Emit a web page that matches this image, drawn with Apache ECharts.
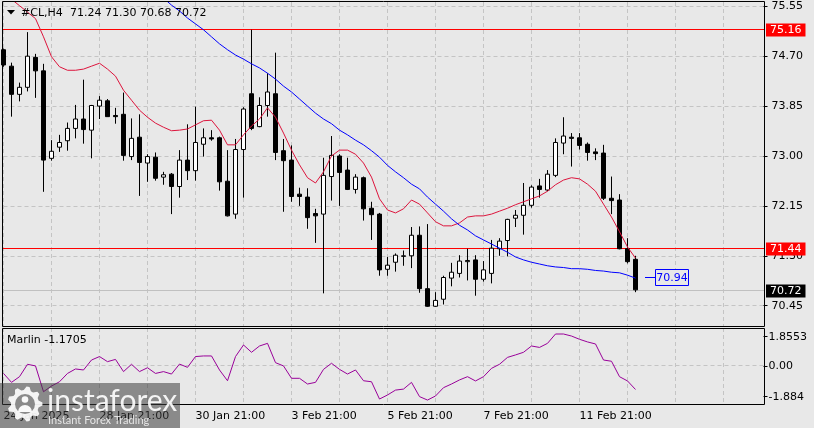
<!DOCTYPE html>
<html><head><meta charset="utf-8">
<script src="https://cdn.jsdelivr.net/npm/echarts@6/dist/echarts.min.js"></script>
<style>html,body{margin:0;padding:0;background:#e8e8e8}#c{width:814px;height:428px}</style>
</head><body><div id="c"></div>
<script>
// ---------------- DATA ----------------
const symbolText = '#CL,H4';
const ohlcText = '71.24 71.30 70.68 70.72';
const marlinText = 'Marlin -1.1705';
const slotCount = 96;   // bar slots on the time axis (80 bars + empty space on the right)
const tickLabels = ['24 Jan 2025', '28 Jan 21:00', '30 Jan 21:00', '3 Feb 21:00', '5 Feb 21:00', '7 Feb 21:00', '11 Feb 21:00'];
const tickEvery = 12;   // a time label every 12 bars
const gridEvery = 6;    // a vertical grid line every 6 bars

const opens  = [74.81,74.53,74.05,74.17,74.68,74.45,72.96,73.15,73.26,73.47,73.63,73.44,73.85,73.94,73.69,73.71,72.99,73.32,72.88,72.98,
                72.64,72.69,72.48,72.93,72.75,73.20,73.31,73.31,72.57,72.01,73.11,74.06,73.50,73.86,74.06,73.09,72.93,72.35,72.30,72.02,
                72.01,72.65,73.00,72.76,72.43,72.63,72.11,72.01,71.07,71.19,71.29,71.30,71.65,70.74,70.44,70.56,70.92,71.00,71.20,71.23,
                70.90,71.00,71.42,71.56,71.94,71.99,72.16,72.49,72.42,72.67,73.22,73.32,73.31,73.20,73.07,73.05,72.28,72.25,71.42,71.24];
const highs  = [74.83,74.59,74.25,75.11,74.74,74.57,73.27,73.36,73.57,73.87,74.30,73.87,74.02,73.97,73.82,74.08,73.64,73.71,73.03,73.06,
                72.73,72.71,73.10,73.54,73.84,73.47,73.44,73.33,73.10,73.29,73.83,75.15,74.00,74.41,74.76,73.29,73.18,72.46,72.45,72.10,
                72.97,73.34,73.03,72.97,72.69,72.65,72.22,72.03,71.28,71.34,71.39,71.79,71.80,71.84,70.68,70.96,71.18,71.31,71.42,71.31,
                71.21,71.57,71.60,71.93,72.08,72.54,72.50,72.61,72.76,73.30,73.66,73.39,73.39,73.23,73.13,73.19,72.65,72.35,71.60,71.30];
const lows   = [74.52,73.67,73.93,74.10,73.99,72.39,72.92,73.07,73.09,73.30,73.21,72.96,73.63,73.67,73.55,72.92,72.93,72.32,72.56,72.58,
                72.51,72.01,72.29,72.59,72.58,72.99,73.26,72.41,71.97,71.93,72.29,73.44,73.49,73.67,72.93,72.05,72.22,72.15,71.76,71.52,
                70.66,72.24,72.15,72.42,72.36,71.90,71.57,70.96,70.96,71.03,71.13,71.09,70.67,70.43,70.43,70.47,70.78,70.93,70.88,70.62,
                70.86,70.83,71.30,71.29,71.79,71.66,72.12,72.29,72.40,72.64,73.03,72.82,73.11,72.92,72.93,72.25,72.01,71.41,71.17,70.68];
const closes = [74.55,74.05,74.17,74.70,74.45,72.93,73.08,73.23,73.47,73.63,73.45,73.86,73.95,73.67,73.67,73.01,73.30,72.89,72.99,72.62,
                72.68,72.48,72.93,72.75,73.23,73.31,73.29,72.56,71.98,73.11,73.80,73.47,73.86,74.09,73.06,72.92,72.31,72.31,71.95,71.98,
                72.67,73.01,72.72,72.43,72.64,72.10,72.00,71.06,71.14,71.31,71.30,71.65,70.74,70.44,70.54,70.93,71.02,71.21,71.22,70.90,
                71.06,71.43,71.55,71.92,71.99,72.16,72.47,72.43,72.69,73.23,73.34,73.30,73.18,73.06,73.04,72.28,72.24,71.42,71.20,70.72];

const redMA  = [75.76,75.67,75.56,75.45,75.34,75.03,74.69,74.52,74.46,74.46,74.48,74.53,74.58,74.48,74.36,74.12,73.95,73.78,73.66,73.56,
                73.49,73.43,73.44,73.46,73.53,73.60,73.61,73.44,73.19,73.19,73.36,73.51,73.63,73.82,73.66,73.39,73.10,72.85,72.63,72.54,
                72.73,73.00,73.10,73.10,73.03,72.88,72.64,72.27,72.08,72.03,72.10,72.25,72.18,72.03,71.88,71.81,71.81,71.86,71.96,71.98,
                71.98,72.01,72.06,72.11,72.17,72.22,72.27,72.32,72.40,72.51,72.59,72.63,72.61,72.52,72.40,72.18,71.96,71.71,71.45,71.26];
const blueMA = [null,null,null,null,null,null,null,null,null,null,null,null,null,null,null,null,null,null,null,75.81,
                75.69,75.57,75.47,75.35,75.25,75.15,75.03,74.91,74.81,74.72,74.65,74.57,74.50,74.41,74.31,74.19,74.09,73.97,73.85,73.73,
                73.63,73.55,73.44,73.36,73.27,73.19,73.09,72.98,72.84,72.73,72.63,72.52,72.44,72.30,72.18,72.06,71.93,71.82,71.74,71.64,
                71.57,71.50,71.43,71.36,71.28,71.23,71.19,71.16,71.13,71.11,71.10,71.08,71.08,71.07,71.05,71.04,71.02,71.01,70.97,70.92];
const marlin = [-0.38,-0.82,-0.54,0.07,-0.01,-1.28,-1.00,-0.79,-0.38,-0.16,-0.21,0.28,0.45,0.20,0.31,-0.29,0.07,-0.29,-0.10,-0.38,
                -0.29,-0.41,0.08,-0.08,0.45,0.48,0.48,-0.21,-0.74,0.45,1.02,0.66,0.97,1.10,0.15,-0.01,-0.62,-0.62,-0.90,-0.82,
                -0.18,0.12,-0.18,-0.41,-0.21,-0.74,-0.79,-1.64,-1.44,-1.20,-1.15,-0.82,-1.52,-1.69,-1.49,-1.08,-0.90,-0.70,-0.54,-0.75,
                -0.54,-0.13,0.07,0.41,0.53,0.66,0.97,0.90,1.10,1.56,1.56,1.46,1.30,1.17,1.07,0.28,0.22,-0.54,-0.75,-1.17];

const priceTickMin = 70.45, priceTickMax = 75.55, priceTickStep = 0.85;
const priceViewMin = 70.104, priceViewMax = 75.623;
const levelLines = [75.16, 71.44];
const bidPrice = 70.72;
const blueLabelValue = 70.94;
const marlinMin = -1.884, marlinMax = 1.8553;
const marlinTicks = [1.8553, 0, -1.884];
const marlinTickLabels = ['1.8553', '0.00', '-1.884'];
const watermarkTitle = 'instaforex';
const watermarkSub = 'Instant Forex Trading';

// ---------------- CHART ----------------
const FONT = 'DejaVu Sans';
const slots = Array.from({length: slotCount}, (_, i) => String(i));
const candles = opens.map((o, i) => [o, closes[i], lows[i], highs[i]]);
const dash = {color: '#c4c4c4', type: [4, 3], width: 1};
const GL = 3.5, GW = 760;

const chart = echarts.init(document.getElementById('c'), null, {renderer: 'canvas'});

const option = {
  backgroundColor: '#e8e8e8',
  animation: false,
  textStyle: {fontFamily: FONT, fontSize: 11, color: '#000'},
  grid: [
    {left: GL, top: 2, width: GW, height: 324},
    {left: GL, top: 6.3, width: GW, height: 299.4},
    {left: GL, top: 328, width: GW, height: 76},
    {left: GL, top: 336.7, width: GW, height: 60}
  ],
  xAxis: [
    {gridIndex: 0, type: 'category', data: slots, boundaryGap: false, axisLine: {show: false}, axisTick: {show: false},
     axisLabel: {show: false}, splitLine: {show: true, interval: gridEvery - 1, lineStyle: dash}},
    {gridIndex: 1, type: 'category', data: slots, boundaryGap: false, show: false},
    {gridIndex: 2, type: 'category', data: slots, boundaryGap: false, axisLine: {show: false}, axisTick: {show: false},
     axisLabel: {show: true, interval: tickEvery - 1, align: 'left', margin: 7, color: '#000', fontFamily: FONT, fontSize: 11,
                 formatter: (v, i) => (i % tickEvery === 0 && tickLabels[i / tickEvery]) ? tickLabels[i / tickEvery] : ''},
     splitLine: {show: true, interval: gridEvery - 1, lineStyle: dash}},
    {gridIndex: 3, type: 'category', data: slots, boundaryGap: false, show: false}
  ],
  yAxis: [
    {gridIndex: 0, type: 'value', min: priceViewMin, max: priceViewMax, show: false, scale: true},
    {gridIndex: 1, type: 'value', position: 'right', min: priceTickMin, max: priceTickMax, interval: priceTickStep,
     axisLine: {show: false}, axisTick: {show: true, length: 4, lineStyle: {color: '#000'}},
     axisLabel: {margin: 8, color: '#000', fontFamily: FONT, fontSize: 11, formatter: v => v.toFixed(2)},
     splitLine: {show: true, lineStyle: dash}},
    {gridIndex: 2, type: 'value', min: marlinMin, max: marlinMax, show: false},
    {gridIndex: 3, type: 'value', position: 'right', min: marlinMin, max: marlinMax,
     axisLine: {show: false}, axisTick: {show: true, length: 4, customValues: marlinTicks, lineStyle: {color: '#000'}},
     axisLabel: {margin: 5, color: '#000', fontFamily: FONT, fontSize: 11, customValues: marlinTicks,
                 formatter: v => { const k = marlinTicks.findIndex(t => Math.abs(t - v) < 1e-6); return k >= 0 ? marlinTickLabels[k] : ''; }},
     splitLine: {show: false}}
  ],
  series: [
    {type: 'candlestick', xAxisIndex: 0, yAxisIndex: 0, data: candles, barWidth: 4, clip: true, z: 5,
     itemStyle: {color: '#ffffff', color0: '#000000', borderColor: '#000000', borderColor0: '#000000', borderWidth: 1}},
    {type: 'line', xAxisIndex: 0, yAxisIndex: 0, data: redMA, showSymbol: false, symbol: 'none', clip: true,
     lineStyle: {color: '#dc143c', width: 1}, z: 6},
    {type: 'line', xAxisIndex: 0, yAxisIndex: 0, data: blueMA, showSymbol: false, symbol: 'none', clip: true,
     lineStyle: {color: '#0000ff', width: 1}, z: 6},
    {type: 'line', xAxisIndex: 2, yAxisIndex: 2, data: marlin, showSymbol: false, symbol: 'none', clip: true,
     lineStyle: {color: '#990099', width: 1}, z: 6,
     markLine: {symbol: 'none', silent: true, animation: false, label: {show: false}, lineStyle: dash,
       data: [{yAxis: 0}]}}
  ]
};
chart.setOption(option);

// ---------- overlay graphics ----------
const lastIdx = closes.length - 1;
const yOf = v => chart.convertToPixel({gridIndex: 0}, [0, v])[1];
const bp = chart.convertToPixel({gridIndex: 0}, [lastIdx, blueLabelValue]);
const bx = Math.round(bp[0]), by = Math.round(bp[1]) + 0.5;

function hLine(v, color, labelBg) {
  const y = Math.round(yOf(v)) + 0.5;
  return [
    {type: 'line', z: 1, silent: true, shape: {x1: 3, y1: y, x2: 764, y2: y}, style: {stroke: color, lineWidth: 1}},
    {type: 'text', z: 102, silent: true, x: 766, y: y + 0.5,
     style: {text: v.toFixed(2), font: '11px "DejaVu Sans"', fill: '#fff', backgroundColor: labelBg,
             padding: [1, 4, 0, 4], verticalAlign: 'middle', lineHeight: 12}}
  ];
}

const gear = [];
const gcx = 25, gcy = 404, teeth = 9;
for (let k = 0; k < teeth * 4; k++) {
  const a = (k + 0.5) / (teeth * 4) * 2 * Math.PI - Math.PI / 2;
  const r = (k % 4 < 2) ? 17.5 : 14;
  gear.push([gcx + r * Math.cos(a), gcy + r * Math.sin(a)]);
}

chart.setOption({graphic: [
  // level lines and the bid line
  ...levelLines.flatMap(v => hLine(v, '#ff0000', '#ff0000')),
  ...hLine(bidPrice, '#c0c0c0', '#000000'),
  // panel borders
  {type: 'rect', z: 100, silent: true, shape: {x: 2.5, y: 1.5, width: 762, height: 325}, style: {fill: null, stroke: '#000', lineWidth: 1}},
  {type: 'rect', z: 100, silent: true, shape: {x: 2.5, y: 328.5, width: 762, height: 76}, style: {fill: null, stroke: '#000', lineWidth: 1}},
  // header
  {type: 'polygon', z: 100, silent: true, shape: {points: [[7, 10], [15, 10], [11, 14.5]]}, style: {fill: '#000'}},
  {type: 'text', z: 100, silent: true, x: 21, y: 13, style: {text: symbolText, font: '11px "DejaVu Sans"', fill: '#000', verticalAlign: 'middle'}},
  {type: 'text', z: 100, silent: true, x: 70, y: 13, style: {text: ohlcText, font: '11px "DejaVu Sans"', fill: '#000', verticalAlign: 'middle'}},
  {type: 'text', z: 100, silent: true, x: 7, y: 340, style: {text: marlinText, font: '11px "DejaVu Sans"', fill: '#000', verticalAlign: 'middle'}},
  // blue MA value label
  {type: 'line', z: 100, silent: true, shape: {x1: bx + 9, y1: by, x2: bx + 19, y2: by}, style: {stroke: '#0000ff', lineWidth: 1}},
  {type: 'rect', z: 100, silent: true, shape: {x: bx + 19.5, y: by - 8, width: 33, height: 16}, style: {fill: '#e8e8e8', stroke: '#0000ff', lineWidth: 1}},
  {type: 'text', z: 101, silent: true, x: bx + 36, y: by + 0.5, style: {text: blueLabelValue.toFixed(2), font: '11px "DejaVu Sans"', fill: '#0000ff', align: 'center', verticalAlign: 'middle'}},
  // watermark
  {type: 'rect', z: 110, silent: true, shape: {x: 0, y: 383, width: 180, height: 45}, style: {fill: 'rgba(60,60,60,0.55)'}},
  {type: 'polygon', z: 111, silent: true, shape: {points: gear}, style: {fill: 'rgba(255,255,255,0.9)'}},
  {type: 'circle', z: 112, silent: true, shape: {cx: gcx, cy: gcy, r: 10}, style: {fill: '#8a8a8a'}},
  {type: 'circle', z: 113, silent: true, shape: {cx: gcx, cy: gcy - 4.5, r: 3.3}, style: {fill: 'rgba(255,255,255,0.95)'}},
  {type: 'sector', z: 113, silent: true, shape: {cx: gcx, cy: gcy + 8, r: 7, startAngle: Math.PI, endAngle: 2 * Math.PI}, style: {fill: 'rgba(255,255,255,0.95)'}},
  {type: 'text', z: 111, silent: true, x: 47, y: 401, style: {text: watermarkTitle, font: '30px Lato', fill: 'rgba(255,255,255,0.9)', verticalAlign: 'middle'}},
  {type: 'text', z: 111, silent: true, x: 48, y: 420, style: {text: watermarkSub, font: '11px Lato', fill: 'rgba(255,255,255,0.78)', verticalAlign: 'middle'}}
]});
</script></body></html>
